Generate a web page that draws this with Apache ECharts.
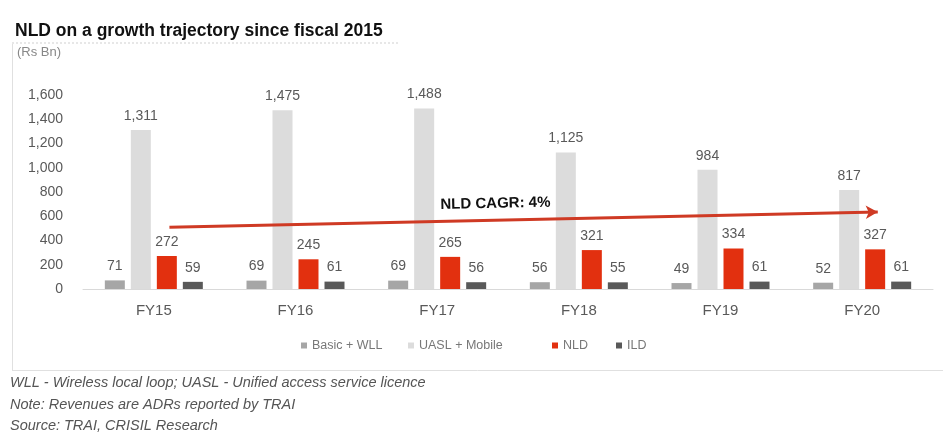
<!DOCTYPE html>
<html>
<head>
<meta charset="utf-8">
<script src="https://cdn.jsdelivr.net/npm/echarts@6/dist/echarts.min.js"></script>
<style>
html,body{margin:0;padding:0;background:#fff;}
#c{width:943px;height:433px;}
</style>
</head>
<body>
<div id="c"></div>
<script>
const categories = ['FY15','FY16','FY17','FY18','FY19','FY20'];
const basicWLL = [71, 69, 69, 56, 49, 52];
const uaslMobile = [1311, 1475, 1488, 1125, 984, 817];
const nld = [272, 245, 265, 321, 334, 327];
const ild = [59, 61, 56, 55, 61, 61];
const yTicks = [0, 200, 400, 600, 800, 1000, 1200, 1400, 1600];
const legendNames = ['Basic + WLL','UASL + Mobile','NLD','ILD'];
const arrowStart = [0.11, 510];
const arrowEnd = [5.11, 635];
const arrowText = 'NLD CAGR: 4%';

const FONT = 'Liberation Sans';
const fmt = v => Number(v).toLocaleString('en-US');
const labelCfg = {show:true, position:'top', distance:7, color:'#595959', fontSize:14, fontFamily:FONT, formatter: p => fmt(p.value)};
const legendLefts = [296, 403, 547, 611];
const legends = legendNames.map((n, i) => ({
  bottom:76, left:legendLefts[i], itemWidth:6, itemHeight:6, icon:'rect',
  textStyle:{color:'#777', fontSize:12.5, fontFamily:FONT}, data:[n]
}));

const chart = echarts.init(document.getElementById('c'));
chart.setOption({
  animation:false,
  backgroundColor:'#fff',
  title:{text:'NLD on a growth trajectory since fiscal 2015', left:10, top:17, textStyle:{fontFamily:FONT, fontSize:17.5, fontWeight:'bold', color:'#111'}},
  graphic:[
    {type:'line', shape:{x1:12,y1:43,x2:400,y2:43}, style:{stroke:'#d0d0d0', lineWidth:1, lineDash:[2,2]}},
    {type:'line', shape:{x1:12.5,y1:44,x2:12.5,y2:370}, style:{stroke:'#e0e0e0', lineWidth:1}},
    {type:'line', shape:{x1:12,y1:370.5,x2:943,y2:370.5}, style:{stroke:'#e0e0e0', lineWidth:1}},
    {type:'text', left:17, top:46, style:{text:'(Rs Bn)', fontFamily:FONT, fontSize:13, fill:'#888'}},
    {type:'text', left:10, top:375, style:{text:'WLL - Wireless local loop; UASL - Unified access service licence', fontFamily:FONT, fontSize:14.5, fontStyle:'italic', fill:'#555'}},
    {type:'text', left:10, top:397, style:{text:'Note: Revenues are ADRs reported by TRAI', fontFamily:FONT, fontSize:14.5, fontStyle:'italic', fill:'#555'}},
    {type:'text', left:10, top:418, style:{text:'Source: TRAI, CRISIL Research', fontFamily:FONT, fontSize:14.5, fontStyle:'italic', fill:'#555'}}
  ],
  legend:legends,
  grid:{left:83, right:10, top:95, bottom:144},
  xAxis:[{type:'category', data:categories, axisTick:{show:false},
    axisLine:{lineStyle:{color:'#d9d9d9'}},
    axisLabel:{color:'#595959', fontSize:15, fontFamily:FONT, margin:14}},
    {type:'value', min:-0.5, max:5.5, show:false}],
  yAxis:{type:'value', min:0, max:1600, interval:200, splitLine:{show:false},
    axisLine:{show:false}, axisTick:{show:false},
    axisLabel:{color:'#595959', fontSize:14, fontFamily:FONT, margin:20, formatter: v => yTicks.includes(v) ? fmt(v) : ''}},
  series:[
    {name:'Basic + WLL', type:'bar', data:basicWLL, barWidth:20, barGap:'30%', itemStyle:{color:'#a6a6a6'}, label:labelCfg},
    {name:'UASL + Mobile', type:'bar', data:uaslMobile, barWidth:20, barGap:'30%', itemStyle:{color:'#dcdcdc'}, label:labelCfg},
    {name:'NLD', type:'bar', data:nld, barWidth:20, barGap:'30%', itemStyle:{color:'#e2300f'}, label:labelCfg},
    {name:'ILD', type:'bar', data:ild, barWidth:20, barGap:'30%', itemStyle:{color:'#595959'}, label:labelCfg},
    {name:'arrow', type:'line', xAxisIndex:1, data:[], silent:true,
      markLine:{symbol:['none','arrow'], symbolSize:[10,12], silent:true,
        lineStyle:{color:'#cf3a24', width:3, type:'solid'},
        label:{show:true, position:'middle', formatter:arrowText, color:'#111', fontWeight:'bold', fontSize:15, fontFamily:FONT, distance:9, offset:[-28,0]},
        data:[[{coord:arrowStart},{coord:arrowEnd}]]}}
  ]
});
</script>
</body>
</html>
